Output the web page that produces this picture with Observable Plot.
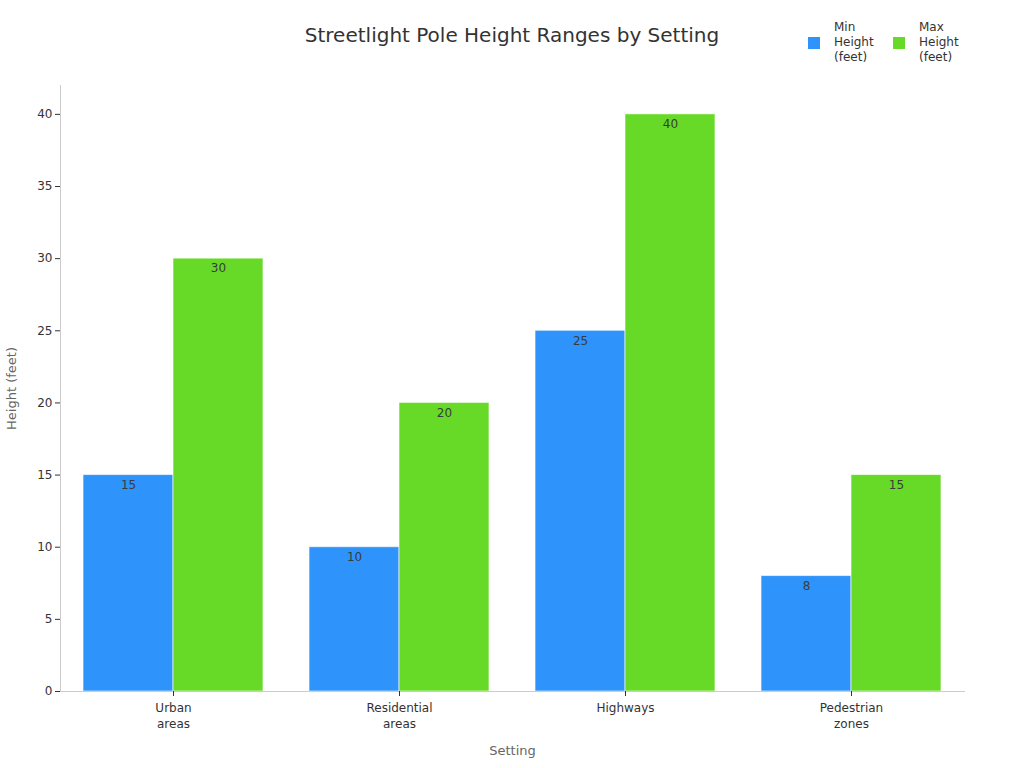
<!DOCTYPE html>
<html>
<head>
<meta charset="utf-8">
<script src="https://cdn.jsdelivr.net/npm/d3@7"></script>
<script src="https://cdn.jsdelivr.net/npm/@observablehq/plot@0.6"></script>
<style>
  body { margin: 0; background: #fff; font-family: "DejaVu Sans", sans-serif; }
  #wrap { position: relative; width: 1024px; height: 768px; }
  #header { position: relative; height: 80px; }
  #title { position: absolute; left: 0; width: 1024px; top: 23px; text-align: center;
           font-size: 20px; color: #333; }
  .leg { position: absolute; top: 20px; display: flex; align-items: center; font-size: 12px;
         line-height: 15px; color: #333; }
  .leg .sw { width: 12px; height: 12px; margin-right: 14px; }
</style>
</head>
<body>
<div id="wrap">
  <div id="header">
    <div id="title">Streetlight Pole Height Ranges by Setting</div>
  </div>
  <div id="chart"></div>
</div>
<script>
// Pole height ranges (feet) for each setting
const settings = ["Urban areas", "Residential areas", "Highways", "Pedestrian zones"];
const minHeights = [15, 10, 25, 8];
const maxHeights = [30, 20, 40, 15];
const seriesNames = ["Min Height (feet)", "Max Height (feet)"];
const seriesColors = ["#2E93FA", "#66DA26"];
const yTicks = [0, 5, 10, 15, 20, 25, 30, 35, 40];

const rows = settings.flatMap((s, i) => [
  {setting: s, series: seriesNames[0], value: minHeights[i]},
  {setting: s, series: seriesNames[1], value: maxHeights[i]}
]);

// Legend
const header = document.getElementById("header");
const legendX = [808, 893];
seriesNames.forEach((name, i) => {
  const item = document.createElement("div");
  item.className = "leg";
  item.style.left = legendX[i] + "px";
  const sw = document.createElement("div");
  sw.className = "sw";
  sw.style.background = seriesColors[i];
  const txt = document.createElement("div");
  txt.innerHTML = name.split(" ").join("<br>");
  item.append(sw, txt);
  header.append(item);
});

const chart = Plot.plot({
  width: 1024,
  height: 688,
  marginTop: 5,
  marginLeft: 60,
  marginRight: 60,
  marginBottom: 77,
  style: {fontFamily: "DejaVu Sans, sans-serif", fontSize: "12px", color: "#333"},
  fx: {domain: settings, padding: 0, round: false},
  x: {domain: seriesNames, paddingInner: 0, paddingOuter: 0.256, round: false, axis: null},
  y: {domain: [0, 42]},
  color: {domain: seriesNames, range: seriesColors},
  marks: [
    Plot.barY(rows, {fx: "setting", x: "series", y: "value", fill: "series",
                     stroke: "#fff", strokeOpacity: 0.6, strokeWidth: 1}),
    Plot.text(rows, {fx: "setting", x: "series", y: "value", text: d => String(d.value),
                     dy: 10, fill: "#373d3f", fontSize: 12}),
    Plot.frame({anchor: "bottom", stroke: "#ccc"}),
    Plot.frame({anchor: "left", stroke: "#ccc", facetAnchor: "left"}),
    Plot.axisY({ticks: yTicks, tickSize: 5, tickPadding: 3, label: "Height (feet)",
                labelAnchor: "center", labelArrow: "none", labelOffset: 54,
                fontSize: 12, color: "#333"}),
    Plot.axisFx({anchor: "bottom", tickSize: 5, tickPadding: 4, lineHeight: 1.33,
                 tickFormat: d => d.split(" ").join("\n"),
                 label: "Setting", labelAnchor: "center", labelArrow: "none", labelOffset: 63,
                 fontSize: 12})
  ]
});
document.getElementById("chart").append(chart);

// axis titles styling
chart.querySelectorAll("[aria-label='y-axis label'] text, [aria-label='fx-axis label'] text")
  .forEach(t => { t.setAttribute("fill", "#666"); t.style.fontSize = "13px"; });
</script>
</body>
</html>
